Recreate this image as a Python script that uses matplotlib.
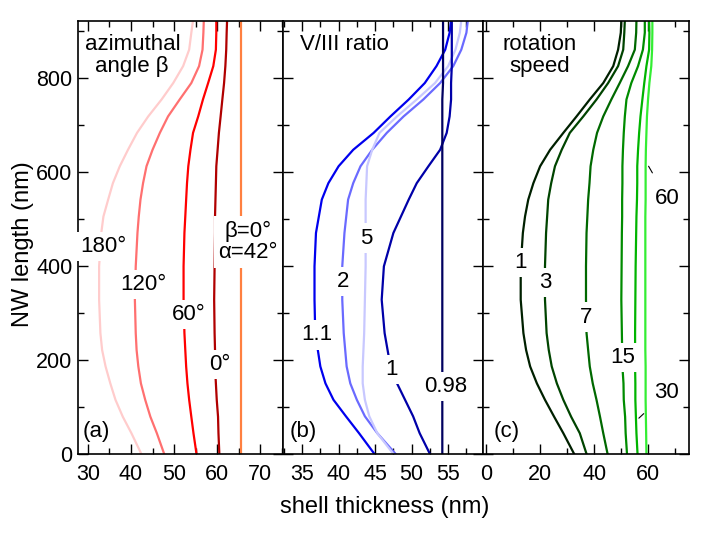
import matplotlib
matplotlib.use("Agg")
import matplotlib.pyplot as plt
from matplotlib.ticker import MultipleLocator

plt.rcParams['font.family'] = ['Liberation Sans', 'DejaVu Sans']
plt.rcParams['font.size'] = 16

# common NW length grid (nm)
y_nm = [923, 896, 860, 825, 789, 754, 718, 683, 647, 612, 576, 541, 505, 470,
        399, 328, 257, 221, 186, 150, 115, 79, 44, 0]

# --- panel (a): azimuthal angle beta ---
a_180 = [54.4, 54.0, 53.5, 52.1, 49.8, 47.1, 44.0, 41.4, 39.3, 37.4, 35.8, 34.7, 33.6, 33.1,
         32.6, 32.6, 32.9, 33.3, 34.1, 35.2, 36.4, 38.1, 40.1, 42.4]
a_120 = [56.9, 56.8, 56.6, 55.8, 54.0, 51.3, 48.6, 46.7, 45.0, 43.6, 42.8, 42.2, 41.8, 41.5,
         41.1, 40.9, 41.1, 41.3, 41.7, 42.3, 43.3, 44.5, 46.0, 47.7]
a_60 = [59.8, 59.8, 59.7, 59.1, 57.9, 56.7, 55.6, 54.4, 53.8, 53.3, 53.0, 52.8, 52.6, 52.4,
        52.2, 52.2, 52.4, 52.6, 52.8, 53.1, 53.5, 54.0, 54.5, 55.2]
a_0 = [62.3, 62.2, 62.1, 61.9, 61.6, 61.2, 60.8, 60.4, 60.1, 59.8, 59.7, 59.6, 59.5, 59.5,
       59.4, 59.3, 59.4, 59.5, 59.5, 59.7, 59.9, 60.2, 60.3, 60.5]
a_ref = [65.5] * len(y_nm)

# --- panel (b): V/III ratio ---
b_y = [923, 896, 860, 825, 789, 754, 718, 683, 647, 612, 576, 541, 470, 399, 328, 257,
       186, 150, 115, 80, 44, 0]
b_11 = [55.4, 55.2, 54.6, 53.4, 51.8, 49.6, 47.1, 44.8, 42.0, 40.0, 38.6, 37.7, 36.9, 36.7,
        36.7, 36.8, 37.5, 38.2, 39.3, 41.0, 42.8, 44.9]
b_2 = [57.7, 57.5, 56.8, 55.7, 53.9, 51.6, 48.9, 46.6, 44.6, 43.0, 42.0, 41.3, 40.8, 40.5,
       40.5, 40.7, 41.1, 41.6, 42.5, 43.6, 45.3, 47.8]
b_5 = [56.8, 56.6, 56.0, 55.0, 53.2, 50.7, 48.0, 45.6, 44.6, 43.9, 43.8, 43.7, 43.7, 43.7,
       43.6, 43.5, 43.3, 43.3, 43.6, 44.2, 45.3, 47.5]
b_1 = [55.5, 55.5, 55.5, 55.5, 55.4, 55.4, 55.2, 54.8, 53.9, 52.3, 50.7, 49.6, 47.5, 46.2,
       45.9, 46.3, 47.1, 48.0, 49.1, 50.2, 51.1, 52.5]
b_098 = [54.3, 54.3, 54.3, 54.3, 54.3, 54.2, 54.2, 54.2, 54.2, 54.2, 54.2, 54.2, 54.2, 54.2,
         54.2, 54.2, 54.2, 54.2, 54.2, 54.2, 54.2, 54.2]

# --- panel (c): rotation speed ---
c_1 = [50.1, 49.9, 48.9, 47.1, 43.4, 38.4, 33.5, 28.6, 23.7, 20.0, 17.5, 15.6, 14.4, 13.6,
       12.8, 12.8, 13.8, 14.8, 16.3, 18.8, 21.8, 25.2, 28.6, 32.6]
c_3 = [51.4, 51.2, 50.8, 48.9, 45.2, 40.9, 36.0, 31.0, 28.0, 25.5, 24.1, 23.0, 22.6, 22.2,
       21.8, 21.8, 22.4, 23.2, 24.3, 26.2, 28.6, 31.5, 34.7, 37.2]
c_7 = [55.7, 55.6, 55.1, 52.6, 49.5, 46.4, 43.4, 41.1, 39.7, 38.7, 38.3, 37.8, 37.5, 37.2,
       37.0, 37.0, 37.2, 37.8, 38.4, 39.5, 40.9, 42.2, 43.4, 45.0]
c_15 = [58.8, 58.8, 58.1, 56.3, 53.8, 52.0, 51.4, 51.0, 50.7, 50.5, 50.5, 50.4, 50.4, 50.3,
        50.2, 50.1, 50.3, 50.4, 50.5, 50.9, 51.0, 51.5, 51.7, 52.2]
c_30 = [60.4, 60.5, 60.4, 59.4, 58.6, 57.9, 57.2, 56.7, 56.3, 56.0, 56.0, 55.9, 55.7, 55.6,
        55.4, 55.3, 55.2, 55.2, 55.2, 55.3, 55.3, 55.5, 55.7, 56.1]
c_60 = [61.6, 61.6, 61.5, 61.2, 60.5, 60.0, 59.6, 59.4, 59.2, 59.1, 59.1, 59.1, 59.0, 59.0,
        59.0, 59.0, 59.0, 59.0, 59.1, 59.1, 59.1, 59.2, 59.3, 59.4]

fig = plt.figure(figsize=(7.11, 5.34), dpi=100)
gs = fig.add_gridspec(1, 3, left=0.1097, right=0.9695, bottom=0.150, top=0.9607,
                      wspace=0, width_ratios=[205, 200, 206])
axs = [fig.add_subplot(gs[0, i]) for i in range(3)]

lw = 1.6
box = dict(facecolor='white', edgecolor='none', pad=3)


def lab(ax, x, y, s, **kw):
    ax.text(x, y, s, ha='center', va='center', bbox=box, zorder=5, **kw)


# (a)
ax = axs[0]
ax.plot(a_180, y_nm, color='#ffcccc', lw=lw)
ax.plot(a_120, y_nm, color='#ff7070', lw=lw)
ax.plot(a_60, y_nm, color='#ff0000', lw=lw)
ax.plot(a_0, y_nm, color='#b00000', lw=lw)
ax.plot(a_ref, y_nm, color='#ff8040', lw=lw)
lab(ax, 33.6, 441, '180°')
lab(ax, 42.8, 360, '120°')
lab(ax, 53.3, 296, '60°')
lab(ax, 60.5, 190, '0°')
lab(ax, 67.2, 451, 'β=0°\nα=42°', linespacing=1.05)
ax.text(0.034, 0.933, 'azimuthal', transform=ax.transAxes, ha='left', va='baseline')
ax.text(0.083, 0.882, 'angle β', transform=ax.transAxes, ha='left', va='baseline')
ax.text(0.024, 0.04, '(a)', transform=ax.transAxes, ha='left', va='baseline')
ax.set_xlim(27.7, 75.3)
ax.xaxis.set_major_locator(MultipleLocator(10))
ax.xaxis.set_minor_locator(MultipleLocator(5))

# (b)
ax = axs[1]
ax.plot(b_11, b_y, color='#0000ee', lw=lw)
ax.plot(b_2, b_y, color='#6a6aff', lw=lw)
ax.plot(b_5, b_y, color='#c8c8ff', lw=lw)
ax.plot(b_1, b_y, color='#0000a8', lw=lw)
ax.plot(b_098, b_y, color='#000060', lw=lw)
lab(ax, 37.0, 253, '1.1')
lab(ax, 40.6, 367, '2')
lab(ax, 43.8, 459, '5')
lab(ax, 47.3, 179, '1')
lab(ax, 54.7, 143, '0.98')
ax.text(0.085, 0.933, 'V/III ratio', transform=ax.transAxes, ha='left', va='baseline')
ax.text(0.035, 0.04, '(b)', transform=ax.transAxes, ha='left', va='baseline')
ax.set_xlim(32.4, 59.8)
ax.xaxis.set_major_locator(MultipleLocator(5))
ax.xaxis.set_minor_locator(MultipleLocator(2.5))

# (c)
ax = axs[2]
ax.plot(c_1, y_nm, color='#002000', lw=lw)
ax.plot(c_3, y_nm, color='#004400', lw=lw)
ax.plot(c_7, y_nm, color='#006800', lw=lw)
ax.plot(c_15, y_nm, color='#008c00', lw=lw)
ax.plot(c_30, y_nm, color='#00b400', lw=lw)
ax.plot(c_60, y_nm, color='#33ee33', lw=lw)
lab(ax, 12.6, 407, '1')
lab(ax, 22.0, 365, '3')
lab(ax, 37.2, 291, '7')
lab(ax, 50.5, 205, '15')
ax.annotate('30', xy=(56.6, 76), xytext=(66.7, 130), ha='center', va='center',
            arrowprops=dict(arrowstyle='-', color='black', lw=0.8, shrinkA=8, shrinkB=0))
ax.annotate('60', xy=(60.2, 612), xytext=(67.0, 544), ha='center', va='center',
            arrowprops=dict(arrowstyle='-', color='black', lw=0.8, shrinkA=10, shrinkB=0))
ax.text(0.092, 0.933, 'rotation', transform=ax.transAxes, ha='left', va='baseline')
ax.text(0.128, 0.882, 'speed', transform=ax.transAxes, ha='left', va='baseline')
ax.text(0.05, 0.04, '(c)', transform=ax.transAxes, ha='left', va='baseline')
ax.set_xlim(-1.1, 75.3)
ax.xaxis.set_major_locator(MultipleLocator(20))
ax.xaxis.set_minor_locator(MultipleLocator(10))

for i, ax in enumerate(axs):
    ax.set_ylim(0, 921)
    ax.yaxis.set_major_locator(MultipleLocator(200))
    ax.yaxis.set_minor_locator(MultipleLocator(100))
    ax.tick_params(which='both', direction='in', top=True, right=True, width=1.0,
                   labelsize=15.5)
    ax.tick_params(which='major', length=7)
    ax.tick_params(which='minor', length=4)
    ax.tick_params(axis='x', pad=7)
    ax.tick_params(axis='y', pad=4)
    if i > 0:
        ax.tick_params(axis='y', labelleft=False)
    for s in ax.spines.values():
        s.set_linewidth(1.2)

fig.text(0.0317, 0.543, 'NW length (nm)', rotation=90, ha='center', va='center', fontsize=17)
fig.text(0.541, 0.039, 'shell thickness (nm)', ha='center', va='baseline', fontsize=17)

fig.savefig('out.png', dpi=100)
